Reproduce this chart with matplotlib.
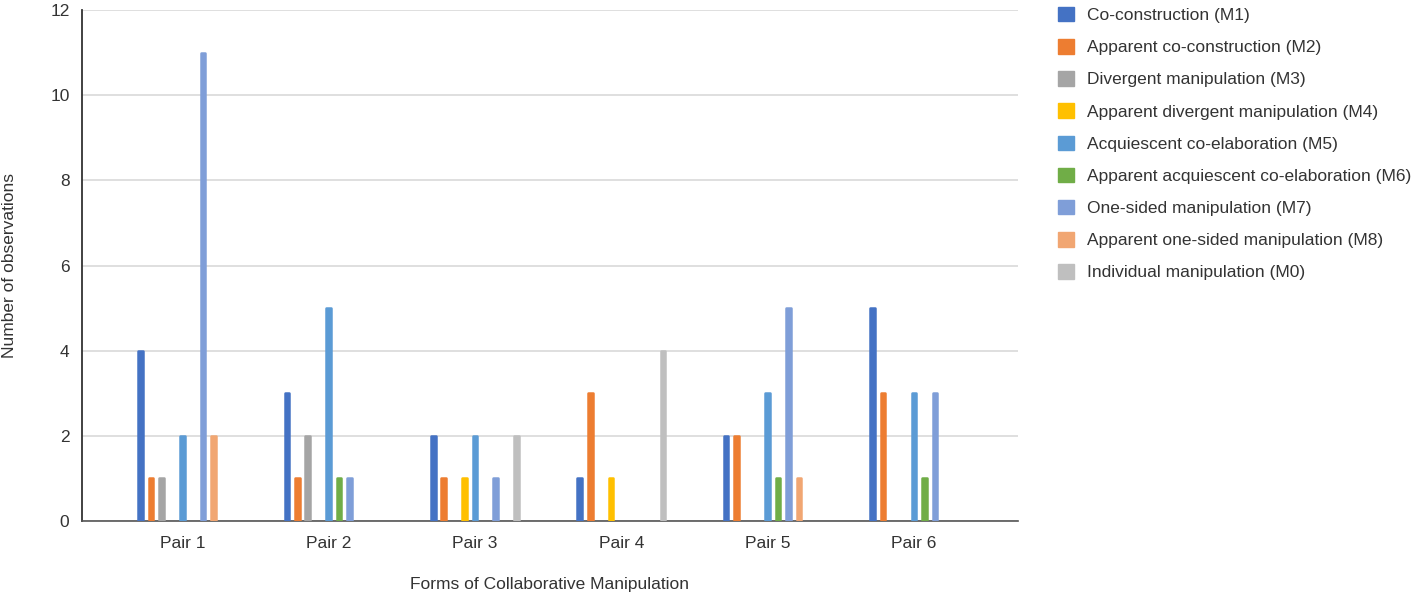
import matplotlib
matplotlib.use("Agg")
import matplotlib.pyplot as plt
from matplotlib.patches import Patch
import numpy as np

plt.rcParams['font.family'] = ['Liberation Sans', 'DejaVu Sans']

pairs = ["Pair 1", "Pair 2", "Pair 3", "Pair 4", "Pair 5", "Pair 6"]
series_names = [
    "Co-construction (M1)",
    "Apparent co-construction (M2)",
    "Divergent manipulation (M3)",
    "Apparent divergent manipulation (M4)",
    "Acquiescent co-elaboration (M5)",
    "Apparent acquiescent co-elaboration (M6)",
    "One-sided manipulation (M7)",
    "Apparent one-sided manipulation (M8)",
    "Individual manipulation (M0)",
]
colors = ["#4472C4", "#ED7D31", "#A5A5A5", "#FFC000", "#5B9BD5",
          "#70AD47", "#7F9ED8", "#F1A672", "#BFBFBF"]

m1 = [4, 3, 2, 1, 2, 5]
m2 = [1, 1, 1, 3, 2, 3]
m3 = [1, 2, 0, 0, 0, 0]
m4 = [0, 0, 1, 1, 0, 0]
m5 = [2, 5, 2, 0, 3, 3]
m6 = [0, 1, 0, 0, 1, 1]
m7 = [11, 1, 1, 0, 5, 3]
m8 = [2, 0, 0, 0, 1, 0]
m0 = [0, 0, 2, 4, 0, 0]
values = [m1, m2, m3, m4, m5, m6, m7, m8, m0]

txt = "#333333"
fs = 12.5

fig = plt.figure(figsize=(14.17, 5.95), dpi=100)
ax = fig.add_axes([82 / 1417, 74 / 595, 936 / 1417, 511 / 595])

x = np.arange(len(pairs))
step = 0.071
width = 0.032
for i, (vals, c) in enumerate(zip(values, colors)):
    offs = (i - 4) * step
    edges = [c if v > 0 else "none" for v in vals]
    ax.bar(x + offs, vals, width=width, color=c, edgecolor=edges,
           linewidth=1.8, joinstyle="round", zorder=3)

ax.set_ylim(0, 12)
ax.set_yticks(range(0, 13, 2))
ax.set_xlim(-0.685, 5.71)
ax.set_xticks(x)
ax.set_xticklabels(pairs)
ax.grid(axis="y", color="#D9D9D9", linewidth=1.2, zorder=0)
ax.tick_params(length=0, labelsize=fs, colors=txt)
ax.tick_params(axis="x", pad=11)
ax.tick_params(axis="y", pad=9)
for s in ["top", "right"]:
    ax.spines[s].set_visible(False)
ax.spines["left"].set_color("#333333")
ax.spines["bottom"].set_color("#555555")
ax.spines["left"].set_linewidth(1.3)
ax.spines["bottom"].set_linewidth(1.2)

ax.set_ylabel("Number of observations", fontsize=fs, color=txt)
ax.yaxis.set_label_coords(-0.069, 0.5)
ax.set_xlabel("Forms of Collaborative Manipulation", fontsize=fs, color=txt)
ax.xaxis.set_label_coords(0.5, -0.11)

handles = [Patch(facecolor=c, edgecolor=c, label=n) for c, n in zip(colors, series_names)]
fig.legend(handles=handles, loc="upper left", bbox_to_anchor=(1051 / 1417, 1.0),
           borderaxespad=0, frameon=False, fontsize=fs, handlelength=0.9,
           handleheight=0.9, handletextpad=0.8, labelspacing=0.92, labelcolor=txt)

fig.savefig("out.png", dpi=100)
